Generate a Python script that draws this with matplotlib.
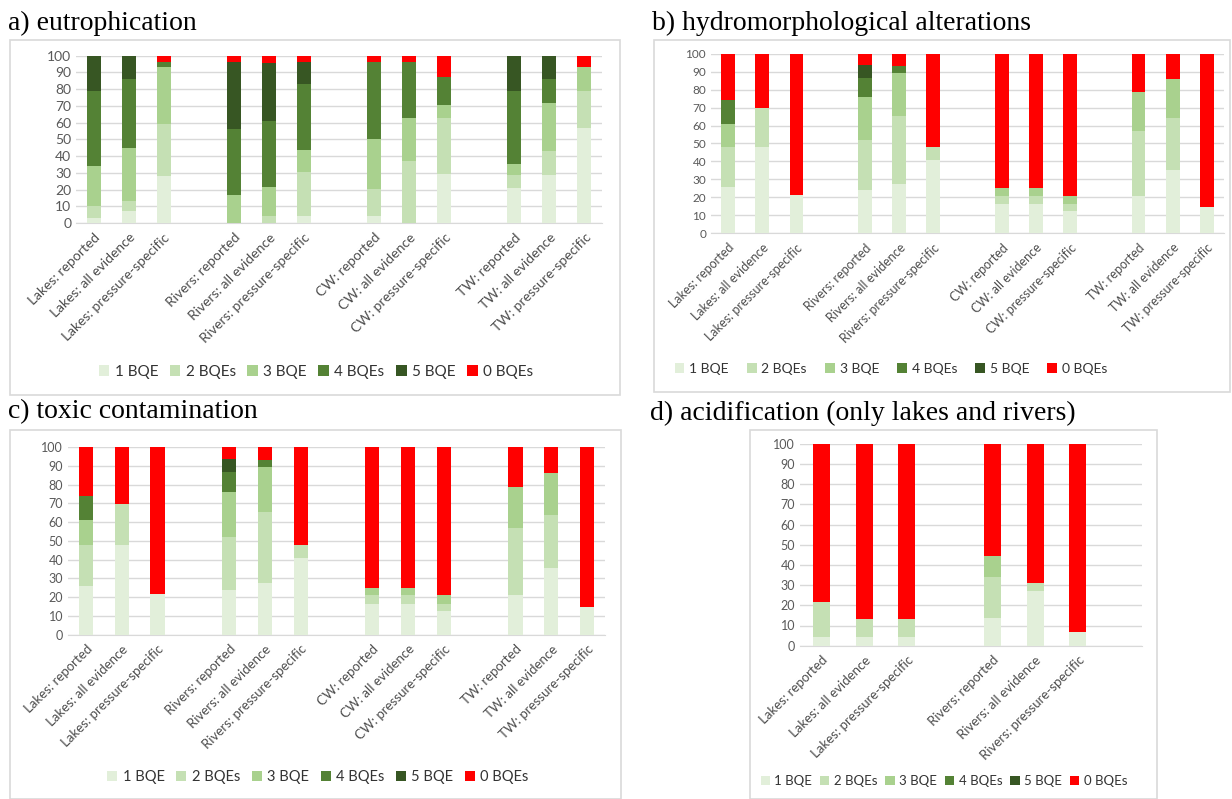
import matplotlib
matplotlib.use("Agg")
from matplotlib import pyplot as plt
from matplotlib.patches import Patch, Rectangle
import numpy as np

plt.rcParams["font.family"] = ["Lato", "DejaVu Sans"]

series = ["1 BQE", "2 BQEs", "3 BQE", "4 BQEs", "5 BQE", "0 BQEs"]
colors = ["#e2efda", "#c5e0b4", "#a9d18e", "#548235", "#375623", "#ff0000"]

# categories, "" = empty gap slot
cats_all = ["Lakes: reported", "Lakes: all evidence", "Lakes: pressure-specific", "",
            "Rivers: reported", "Rivers: all evidence", "Rivers: pressure-specific", "",
            "CW: reported", "CW: all evidence", "CW: pressure-specific", "",
            "TW: reported", "TW: all evidence", "TW: pressure-specific"]
cats_lr = cats_all[:8]

# segment heights per bar: [1 BQE, 2 BQEs, 3 BQE, 4 BQEs, 5 BQE, 0 BQEs]
eutro = [
    [3, 7, 24, 45, 21, 0],
    [7, 6, 32, 41, 14, 0],
    [28, 31, 34, 3, 0, 4],
    [0, 0, 0, 0, 0, 0],
    [0, 0, 17, 39, 40, 4],
    [0, 4, 17.5, 39.5, 34.5, 4.5],
    [4, 26.5, 13, 39.5, 13, 4],
    [0, 0, 0, 0, 0, 0],
    [4, 16.5, 29.5, 46.5, 0, 3.5],
    [0, 37, 25.5, 34, 0, 3.5],
    [29, 33.5, 8, 17, 0, 12.5],
    [0, 0, 0, 0, 0, 0],
    [21, 7.5, 7, 43.5, 21, 0],
    [28.5, 14.5, 28.5, 14.5, 14, 0],
    [57, 22, 14, 0, 0, 7],
]
hydro = [
    [26, 22, 13, 13, 0, 26],
    [48, 21.5, 0, 0, 0, 30.5],
    [21.5, 0, 0, 0, 0, 78.5],
    [0, 0, 0, 0, 0, 0],
    [24, 28, 24, 10.5, 7, 6.5],
    [27.5, 38, 24, 3.5, 0, 7],
    [41, 7, 0, 0, 0, 52],
    [0, 0, 0, 0, 0, 0],
    [16.5, 4.5, 4, 0, 0, 75],
    [16.5, 4.5, 4, 0, 0, 75],
    [12.5, 4, 4.5, 0, 0, 79],
    [0, 0, 0, 0, 0, 0],
    [21, 36, 21.5, 0, 0, 21.5],
    [35.5, 28.5, 22, 0, 0, 14],
    [14.5, 0, 0, 0, 0, 85.5],
]
toxic = [row[:] for row in hydro]  # same values as panel b in the source
acid = [
    [4.5, 17, 0, 0, 0, 78.5],
    [4.5, 8.5, 0, 0, 0, 87],
    [4.5, 8.5, 0, 0, 0, 87],
    [0, 0, 0, 0, 0, 0],
    [13.5, 20.5, 10.5, 0, 0, 55.5],
    [27, 4, 0, 0, 0, 69],
    [7, 0, 0, 0, 0, 93],
    [0, 0, 0, 0, 0, 0],
]

W, H = 1232, 799
fig = plt.figure(figsize=(W / 100, H / 100), dpi=100)


def px_axes(x0, x1, ytop, ybot):
    return fig.add_axes([x0 / W, 1 - ybot / H, (x1 - x0) / W, (ybot - ytop) / H])


def box(x0, y0, x1, y1):
    fig.patches.append(Rectangle((x0 / W, 1 - y1 / H), (x1 - x0) / W, (y1 - y0) / H,
                                 transform=fig.transFigure, fill=False,
                                 edgecolor="#d9d9d9", lw=1.2))


def panel(ax, cats, data, ytick_fs, xtick_fs):
    d = np.array(data, dtype=float)
    x = np.arange(len(cats))
    bottom = np.zeros(len(cats))
    for i in range(len(series)):
        ax.bar(x, d[:, i], bottom=bottom, width=0.4, color=colors[i], zorder=3)
        bottom += d[:, i]
    ax.set_ylim(0, 100)
    ax.set_xlim(-0.5, len(cats) - 0.5)
    ax.set_yticks(range(0, 101, 10))
    ax.yaxis.grid(True, color="#d9d9d9", lw=1, zorder=0)
    for s in ["top", "right", "left"]:
        ax.spines[s].set_visible(False)
    ax.spines["bottom"].set_color("#d9d9d9")
    ax.tick_params(length=0, colors="#595959", labelsize=ytick_fs)
    ax.set_xticks(x)
    ax.set_xticklabels(cats, rotation=45, ha="right", va="top",
                       rotation_mode="anchor", fontsize=xtick_fs, color="#4d4d4d")
    ax.tick_params(axis="x", pad=6)


def legend(xc, yc, fs, cs):
    handles = [Patch(facecolor=c, edgecolor="none") for c in colors]
    fig.legend(handles, series, loc="center", bbox_to_anchor=(xc / W, 1 - yc / H),
               ncol=6, frameon=False, fontsize=fs, handlelength=0.7, handleheight=0.7,
               handletextpad=0.35, columnspacing=cs, labelcolor="#333333")


def title(x, y, txt):
    fig.text(x / W, 1 - y / H, txt, family="Liberation Serif", fontsize=20,
             va="baseline", ha="left", color="black")


box(10, 40, 620, 395)
box(654, 40, 1230, 392)
box(10, 430, 621, 799)
box(750, 430, 1157, 799)

ax_a = px_axes(76, 602, 55.7, 223)
panel(ax_a, cats_all, eutro, 10, 10)
ax_b = px_axes(711, 1224, 53.7, 233.3)
panel(ax_b, cats_all, hydro, 8.5, 9)
ax_c = px_axes(68, 605, 447, 634.7)
panel(ax_c, cats_all, toxic, 9, 9.5)
ax_d = px_axes(800, 1142, 443.7, 645.7)
panel(ax_d, cats_lr, acid, 9, 9.5)

legend(316, 372, 11, 0.75)
legend(891, 369, 10, 1.3)
legend(318, 777, 10.5, 0.8)
legend(944, 781, 9.5, 0.6)

title(8, 30, "a) eutrophication")
title(652, 30, "b) hydromorphological alterations")
title(8, 418, "c) toxic contamination")
title(650, 420, "d) acidification (only lakes and rivers)")

fig.savefig("out.png", dpi=100)
